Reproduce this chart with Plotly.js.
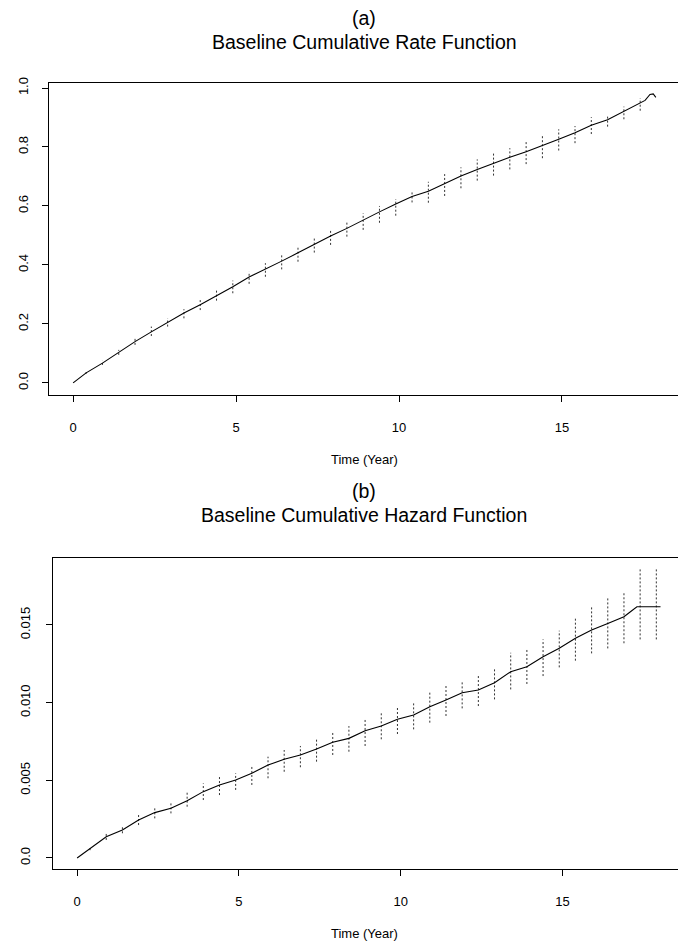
<!DOCTYPE html>
<html><head><meta charset="utf-8">
<script src="https://cdn.plot.ly/plotly-3.0.1.min.js"></script>
<style>html,body{margin:0;padding:0;background:#fff}</style>
</head><body><div id="chart" style="width:678px;height:946px"></div>
<script>
// ---- Panel (a): baseline cumulative rate function ----
const rateTime = [0, 0.4, 0.9, 1.4, 1.9, 2.4, 2.9, 3.4, 3.9, 4.4, 4.9, 5.4, 5.9, 6.4, 6.9, 7.4, 7.9, 8.4, 8.9, 9.4, 9.9,
  10.4, 10.9, 11.4, 11.9, 12.4, 12.9, 13.4, 13.9, 14.4, 14.9, 15.4, 15.9, 16.4, 16.9, 17.4, 17.55, 17.7, 17.8, 17.88];
const rateValue = [0, 0.034, 0.067, 0.104, 0.140, 0.173, 0.205, 0.237, 0.265, 0.295, 0.326, 0.359, 0.385, 0.413, 0.441,
  0.470, 0.498, 0.524, 0.553, 0.580, 0.607, 0.632, 0.650, 0.676, 0.702, 0.724, 0.745, 0.765, 0.784, 0.804, 0.826,
  0.848, 0.874, 0.892, 0.920, 0.948, 0.958, 0.978, 0.980, 0.968];
const rateBandTime = [0.4, 0.9, 1.4, 1.9, 2.4, 2.9, 3.4, 3.9, 4.4, 4.9, 5.4, 5.9, 6.4, 6.9, 7.4, 7.9, 8.4, 8.9, 9.4, 9.9,
  10.4, 10.9, 11.4, 11.9, 12.4, 12.9, 13.4, 13.9, 14.4, 14.9, 15.4, 15.9, 16.4, 16.9, 17.4];
const rateUpper = [0.037, 0.075, 0.112, 0.151, 0.191, 0.219, 0.250, 0.281, 0.315, 0.347, 0.377, 0.406, 0.434, 0.462,
  0.496, 0.521, 0.549, 0.575, 0.600, 0.623, 0.650, 0.682, 0.708, 0.731, 0.758, 0.779, 0.796, 0.818, 0.837, 0.860,
  0.871, 0.901, 0.908, 0.937, 0.965];
const rateLower = [0.031, 0.061, 0.095, 0.129, 0.159, 0.191, 0.219, 0.247, 0.279, 0.304, 0.336, 0.360, 0.385, 0.411,
  0.442, 0.468, 0.496, 0.519, 0.543, 0.567, 0.612, 0.611, 0.634, 0.660, 0.686, 0.703, 0.724, 0.742, 0.762, 0.788,
  0.813, 0.844, 0.869, 0.894, 0.923];
const rateTickVals = [0, 0.2, 0.4, 0.6, 0.8, 1.0];
const rateTickText = ['0.0', '0.2', '0.4', '0.6', '0.8', '1.0'];

// ---- Panel (b): baseline cumulative hazard function ----
const hazardTime = [0, 0.4, 0.9, 1.4, 1.9, 2.4, 2.9, 3.4, 3.9, 4.4, 4.9, 5.4, 5.9, 6.4, 6.9, 7.4, 7.9, 8.4, 8.9, 9.4, 9.9,
  10.4, 10.9, 11.4, 11.9, 12.4, 12.9, 13.4, 13.9, 14.4, 14.9, 15.4, 15.9, 16.4, 16.9, 17.1, 17.3, 17.4, 17.9, 18.03];
const hazardValue = [0, 0.00062, 0.00137, 0.0018, 0.00245, 0.00292, 0.0032, 0.00369, 0.00427, 0.0047, 0.00502,
  0.00545, 0.00598, 0.00635, 0.00663, 0.00701, 0.00745, 0.0077, 0.00819, 0.00849, 0.00893, 0.0092, 0.00974,
  0.01017, 0.01064, 0.01081, 0.01128, 0.01199, 0.01231, 0.01295, 0.0135, 0.01414, 0.01467, 0.0151, 0.01553,
  0.01585, 0.01617, 0.01617, 0.01617, 0.01617];
const hazardBandTime = [0.4, 0.9, 1.4, 1.9, 2.4, 2.9, 3.4, 3.9, 4.4, 4.9, 5.4, 5.9, 6.4, 6.9, 7.4, 7.9, 8.4, 8.9, 9.4, 9.9,
  10.4, 10.9, 11.4, 11.9, 12.4, 12.9, 13.4, 13.9, 14.4, 14.9, 15.4, 15.9, 16.4, 16.9, 17.4, 17.9];
const hazardUpper = [0.00075, 0.00159, 0.00202, 0.00277, 0.0033, 0.00362, 0.00427, 0.0048, 0.00523, 0.00545,
  0.00598, 0.00652, 0.00695, 0.00721, 0.0077, 0.00813, 0.00849, 0.00892, 0.00931, 0.0097, 0.00995, 0.01077,
  0.01107, 0.01135, 0.01184, 0.01227, 0.01321, 0.01349, 0.01407, 0.01463, 0.01542, 0.01622, 0.01671, 0.01714,
  0.01858, 0.01858];
const hazardLower = [0.0005, 0.00116, 0.00159, 0.00212, 0.00255, 0.00287, 0.0033, 0.00373, 0.00405, 0.00438,
  0.0047, 0.00513, 0.00555, 0.00584, 0.0062, 0.00663, 0.00684, 0.00721, 0.00764, 0.00798, 0.00828, 0.00871,
  0.00914, 0.00963, 0.00978, 0.01021, 0.01085, 0.0112, 0.01171, 0.01227, 0.0127, 0.01317, 0.01349, 0.01382,
  0.01407, 0.01407];
const hazardTickVals = [0, 0.005, 0.010, 0.015];
const hazardTickText = ['0.0', '0.005', '0.010', '0.015'];

const timeTickVals = [0, 5, 10, 15];
const timeTickText = ['0', '5', '10', '15'];

// ---- build traces ----
function bandTrace(times, lo, hi, xa, ya) {
  const xs = [], ys = [];
  for (let i = 0; i < times.length; i++) {
    xs.push(times[i], times[i], null);
    ys.push(lo[i], hi[i], null);
  }
  return {x: xs, y: ys, xaxis: xa, yaxis: ya, type: 'scatter', mode: 'lines',
    line: {color: '#333', width: 1, dash: '2px,2px'}, hoverinfo: 'skip', connectgaps: false};
}
const FONT = 'Liberation Sans, Arial, Helvetica, sans-serif';
const traces = [
  bandTrace(rateBandTime, rateLower, rateUpper, 'x', 'y'),
  {x: rateTime, y: rateValue, xaxis: 'x', yaxis: 'y', type: 'scatter', mode: 'lines',
   line: {color: '#000', width: 1.1}},
  bandTrace(hazardBandTime, hazardLower, hazardUpper, 'x2', 'y2'),
  {x: hazardTime, y: hazardValue, xaxis: 'x2', yaxis: 'y2', type: 'scatter', mode: 'lines',
   line: {color: '#000', width: 1.1}}
];

const W = 678, H = 946;
function xAxis(left, range, anchor) {
  return {domain: [left / W, 1], range: range, anchor: anchor, showgrid: false, zeroline: false,
    showline: true, mirror: true, linecolor: '#000', linewidth: 1, ticks: 'outside', ticklen: 6,
    tickcolor: '#000', tickvals: timeTickVals, ticktext: timeTickText, ticklabelstandoff: 14,
    tickfont: {family: FONT, size: 13, color: '#000'}};
}
function yAxis(top, bottom, range, anchor, tv, tt, standoff) {
  return {domain: [1 - bottom / H, 1 - top / H], range: range, anchor: anchor, showgrid: false,
    zeroline: false, showline: true, mirror: false, linecolor: '#000', linewidth: 1, ticks: 'outside',
    ticklen: 6, tickcolor: '#000', tickvals: tv, ticktext: tt, tickangle: -90, ticklabelstandoff: standoff,
    tickfont: {family: FONT, size: 13, color: '#000'}};
}
function ann(text, yPx, size) {
  return {text: text, x: 364 / W, y: 1 - yPx / H, xref: 'paper', yref: 'paper', xanchor: 'center',
    yanchor: 'middle', showarrow: false, font: {family: FONT, size: size, color: '#000'}};
}
const layout = {
  width: W, height: H, margin: {l: 0, r: 0, t: 0, b: 0}, showlegend: false,
  paper_bgcolor: '#fff', plot_bgcolor: '#fff',
  xaxis: xAxis(49, [-0.74, 18.56], 'y'),
  yaxis: yAxis(83, 395, [-0.041, 1.017], 'x', rateTickVals, rateTickText, 9),
  xaxis2: xAxis(53, [-0.745, 18.57], 'y2'),
  yaxis2: yAxis(558, 869, [-0.00071, 0.01931], 'x2', hazardTickVals, hazardTickText, 11),
  annotations: [
    ann('(a)', 18, 19.5), ann('Baseline Cumulative Rate Function', 42, 19.5), ann('Time (Year)', 460, 13),
    ann('(b)', 491, 19.5), ann('Baseline Cumulative Hazard Function', 515, 19.5), ann('Time (Year)', 933, 13)
  ]
};
Plotly.newPlot('chart', traces, layout, {displayModeBar: false, staticPlot: true});
</script></body></html>
